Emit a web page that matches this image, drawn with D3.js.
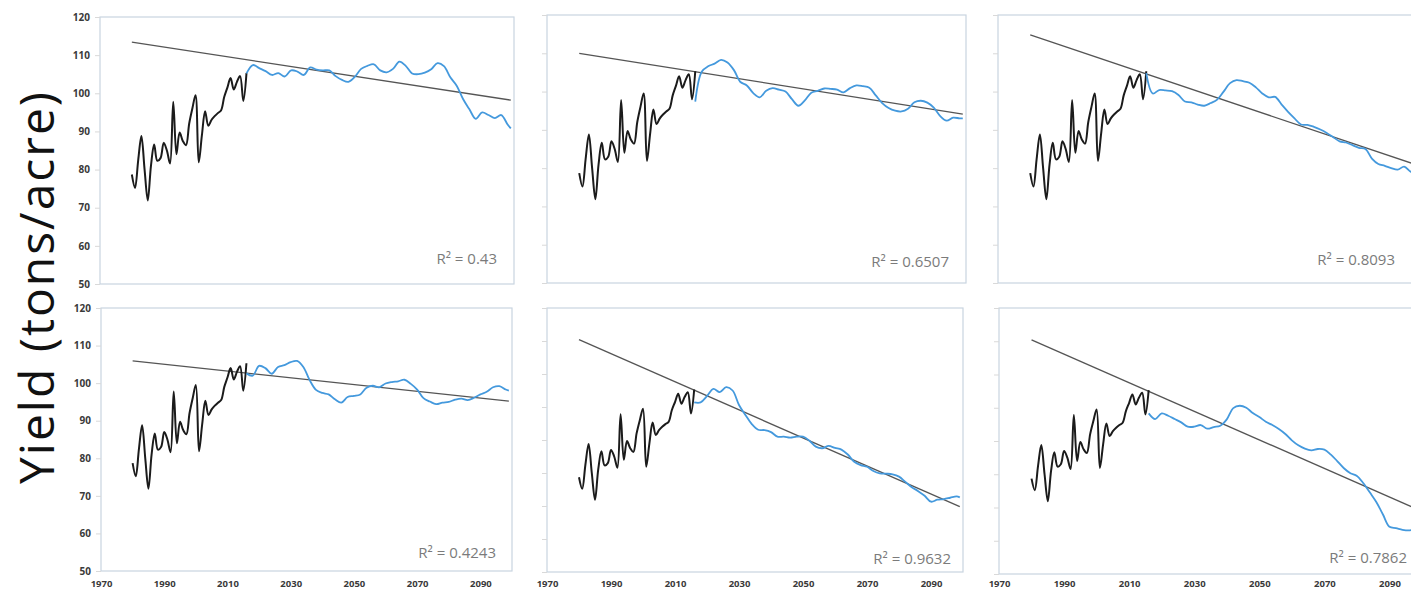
<!DOCTYPE html>
<html>
<head>
<meta charset="utf-8">
<script src="https://cdn.jsdelivr.net/npm/d3@7"></script>
<style>
  body { margin: 0; background: #fff; }
  svg { display: block; }
</style>
</head>
<body>
<svg id="chart" width="1411" height="591"></svg>
<script>
// Observed yields 1980-2016 (shared by all six scenarios)
const histYears = [1980, 1981, 1982, 1983, 1984, 1985, 1986, 1987, 1988, 1989,
                   1990, 1991, 1992, 1993, 1994, 1995, 1996, 1997, 1998, 1999,
                   2000, 2001, 2002, 2003, 2004, 2005, 2006, 2007, 2008, 2009,
                   2010, 2011, 2012, 2013, 2014, 2015, 2016];
const histYield = [78.7, 75.2, 82.5, 88.8, 80.0, 71.9, 81.0, 86.6, 82.3, 83.0,
                   87.0, 85.0, 81.6, 97.8, 84.0, 89.7, 87.5, 86.4, 92.0, 96.0,
                   99.5, 81.9, 89.0, 95.3, 91.5, 93.0, 94.0, 94.8, 95.5, 99.0,
                   101.5, 104.0, 101.0, 103.0, 104.5, 98.0, 105.3];

// Projected yields 2016-2099, one list per scenario
const projYears = [2016, 2018, 2020, 2022, 2024, 2026, 2028, 2030, 2032, 2034,
                   2036, 2038, 2040, 2042, 2044, 2046, 2048, 2050, 2052, 2054,
                   2056, 2058, 2060, 2062, 2064, 2066, 2068, 2070, 2072, 2074,
                   2076, 2078, 2080, 2082, 2084, 2086, 2088, 2090, 2092, 2094,
                   2096, 2098, 2099];
const projA = [105.2, 107.4, 106.6, 105.8, 104.8, 105.3, 104.4, 106.0, 105.7, 104.8,
               106.8, 106.2, 106.0, 106.0, 104.5, 103.5, 103.0, 104.3, 106.4, 107.2,
               107.6, 106.0, 105.5, 106.4, 108.3, 107.2, 105.2, 105.0, 105.4, 106.3,
               107.9, 107.1, 104.2, 102.0, 98.5, 95.8, 93.3, 95.0, 94.3, 93.5,
               94.3, 91.8, 90.8];
const projB = [97.4, 105.2, 106.6, 107.3, 108.3, 107.6, 105.6, 102.5, 101.6, 99.6,
               98.5, 100.2, 100.9, 100.5, 100.0, 98.0, 96.3, 97.7, 99.7, 100.2,
               100.8, 100.7, 100.5, 99.8, 100.9, 101.6, 101.4, 101.0, 99.0, 97.0,
               95.7, 95.0, 94.8, 95.5, 97.2, 97.6, 97.1, 95.8, 93.6, 92.4,
               93.2, 93.0, 93.0];
const projC = [104.8, 99.5, 100.4, 100.3, 100.1, 99.1, 97.4, 97.2, 96.6, 96.3,
               97.0, 97.9, 100.0, 102.2, 103.0, 102.7, 102.3, 101.1, 99.5, 98.5,
               98.6, 96.6, 94.7, 93.0, 91.4, 91.3, 90.8, 90.1, 89.2, 88.1,
               87.0, 86.7, 86.0, 85.3, 85.0, 82.5, 81.1, 80.6, 80.0, 79.6,
               80.4, 79.1, 79.0];
const projD = [102.6, 102.0, 104.6, 104.0, 102.5, 104.3, 104.8, 105.6, 105.9, 104.3,
               100.8, 98.2, 97.4, 97.0, 95.7, 94.8, 96.3, 96.6, 97.0, 98.8,
               99.3, 98.9, 99.9, 100.3, 100.5, 100.9, 99.8, 98.3, 96.0, 95.1,
               94.4, 94.8, 95.0, 95.6, 95.9, 95.5, 96.1, 97.0, 97.7, 98.9,
               99.2, 98.3, 98.0];
const projE = [101.4, 101.4, 103.3, 105.5, 104.5, 106.0, 105.0, 100.6, 97.6, 94.8,
               93.1, 93.0, 92.4, 91.0, 91.0, 90.7, 91.0, 91.0, 89.8, 88.0,
               87.5, 88.2, 87.6, 87.1, 85.6, 83.4, 82.4, 81.9, 80.6, 79.9,
               79.8, 79.6, 78.9, 77.3, 75.7, 74.5, 73.1, 71.3, 71.9, 72.1,
               72.5, 72.9, 72.6];
const projF = [98.3, 96.6, 98.3, 97.6, 96.6, 95.6, 94.3, 94.3, 94.8, 93.7,
               94.2, 94.6, 96.5, 99.9, 100.6, 100.0, 98.4, 97.2, 95.8, 94.8,
               93.6, 92.1, 90.2, 88.7, 87.7, 87.2, 87.6, 87.4, 85.9, 83.9,
               81.8, 80.3, 79.5, 77.3, 74.5, 71.6, 67.9, 64.2, 63.8, 63.3,
               63.1, 63.5, 63.6];
const projections = [projA, projB, projC, projD, projE, projF];

// Linear trend of each projection, value at 1980 and at 2099
const trendYears = [1980, 2099];
const trendStart = [113.4, 110.0, 114.8, 105.9, 120.4, 120.4];
const trendEnd   = [98.2, 94.1, 81.1, 95.2, 69.8, 69.3];

const r2Labels = ["R² = 0.43", "R² = 0.6507", "R² = 0.8093",
                  "R² = 0.4243", "R² = 0.9632", "R² = 0.7862"];

const yMin = 50;
const yMax = [120, 120, 120, 120, 130, 130];
const xDomain = [1970, 2100];
const xTickLabels = [1970, 1990, 2010, 2030, 2050, 2070, 2090];

// Plot-area frames of the 3 x 2 grid
const frames = [
  { x0: 100, y0: 17,  x1: 514,  y1: 284, yLab: true,  xLab: false, r2x: 497,  r2y: 264 },
  { x0: 547, y0: 15,  x1: 966,  y1: 283, yLab: false, xLab: false, r2x: 949,  r2y: 267 },
  { x0: 998, y0: 15,  x1: 1417, y1: 283, yLab: false, xLab: false, r2x: 1395, r2y: 265 },
  { x0: 101, y0: 308, x1: 512,  y1: 571, yLab: true,  xLab: true,  r2x: 496,  r2y: 558 },
  { x0: 547, y0: 308, x1: 963,  y1: 572, yLab: false, xLab: true,  r2x: 951,  r2y: 564 },
  { x0: 999, y0: 308, x1: 1422, y1: 574, yLab: false, xLab: true,  r2x: 1407, r2y: 563 }
];
const xLabelBaseline = 587;

const svg = d3.select("#chart");
const tickFont = "'Open Sans', 'DejaVu Sans', sans-serif";

frames.forEach((f, i) => {
  const x = d3.scaleLinear().domain(xDomain).range([f.x0, f.x1]);
  const y = d3.scaleLinear().domain([yMin, yMax[i]]).range([f.y1, f.y0]);
  const g = svg.append("g");

  // frame
  g.append("rect")
    .attr("x", f.x0).attr("y", f.y0)
    .attr("width", f.x1 - f.x0).attr("height", f.y1 - f.y0)
    .attr("fill", "none").attr("stroke", "#c9d4e0").attr("stroke-width", 1.2);

  // y axis
  const yAxis = d3.axisLeft(y)
    .tickValues(d3.range(yMin, yMax[i] + 1, 10))
    .tickSize(5).tickPadding(5)
    .tickFormat(f.yLab ? d3.format("d") : () => "");
  const ya = g.append("g").attr("transform", `translate(${f.x0},0)`).call(yAxis);
  ya.select(".domain").remove();
  ya.selectAll(".tick line").attr("stroke", "#d9d9d9");
  ya.selectAll(".tick text")
    .attr("font-family", tickFont).attr("font-size", 10).attr("font-weight", 700)
    .attr("fill", "#3a3a3a");

  // x axis (bottom row only)
  if (f.xLab) {
    const xAxis = d3.axisBottom(x).tickValues(xTickLabels)
      .tickSize(0).tickFormat(d3.format("d"));
    const xa = g.append("g").attr("transform", `translate(0,${f.y1})`).call(xAxis);
    xa.select(".domain").remove();
    xa.selectAll(".tick text")
      .attr("y", xLabelBaseline - f.y1).attr("dy", null)
      .attr("font-family", tickFont).attr("font-size", 9.5).attr("font-weight", 700)
      .attr("fill", "#3a3a3a");
  }

  // trend line
  const trendLine = d3.line().x(d => x(d[0])).y(d => y(d[1]));
  g.append("path")
    .datum([[trendYears[0], trendStart[i]], [trendYears[1], trendEnd[i]]])
    .attr("d", trendLine)
    .attr("fill", "none").attr("stroke", "#555").attr("stroke-width", 1.3);

  const smooth = d3.line().curve(d3.curveCatmullRom)
    .x(d => x(d[0])).y(d => y(d[1]));

  // observed series
  g.append("path")
    .datum(histYears.map((yr, k) => [yr, histYield[k]]))
    .attr("d", smooth)
    .attr("fill", "none").attr("stroke", "#1b1b1b").attr("stroke-width", 2);

  // projected series
  g.append("path")
    .datum(projYears.map((yr, k) => [yr, projections[i][k]]))
    .attr("d", smooth)
    .attr("fill", "none").attr("stroke", "#4499dd").attr("stroke-width", 1.8)
    .attr("stroke-linejoin", "round");

  // goodness-of-fit label
  g.append("text")
    .attr("x", f.r2x).attr("y", f.r2y)
    .attr("text-anchor", "end")
    .attr("font-family", tickFont).attr("font-size", 15)
    .attr("fill", "#7b7b7b")
    .text(r2Labels[i]);
});

// shared y-axis title
svg.append("text")
  .attr("transform", "translate(54,288) rotate(-90)")
  .attr("text-anchor", "middle")
  .attr("font-family", tickFont).attr("font-size", 48)
  .attr("textLength", 392).attr("lengthAdjust", "spacing")
  .attr("fill", "#111")
  .text("Yield (tons/acre)");
</script>
</body>
</html>
